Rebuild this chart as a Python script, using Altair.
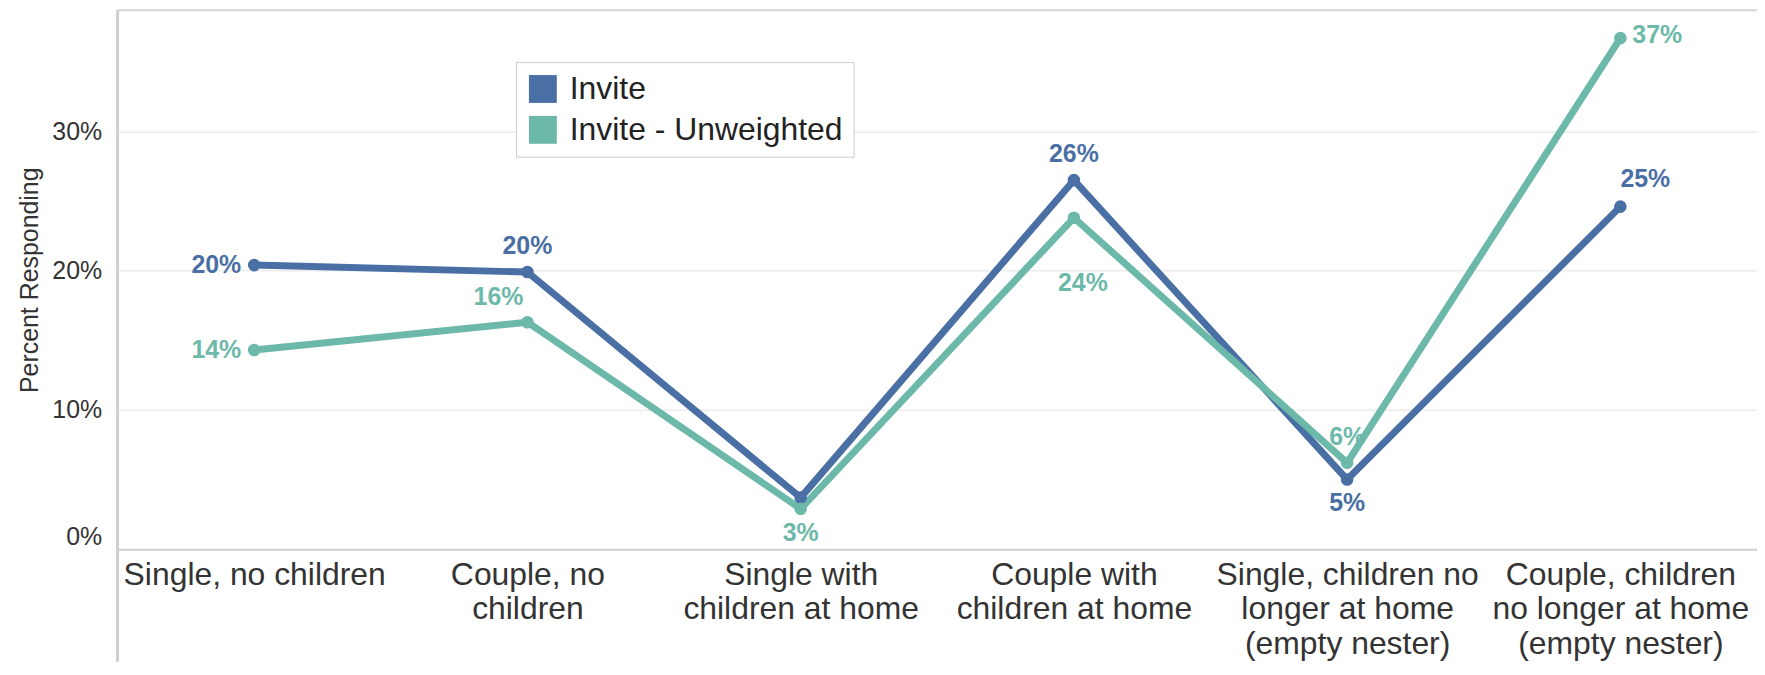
import altair as alt
import pandas as pd

# ---- data ----
categories = [
    "Single, no children",
    "Couple, no|children",
    "Single with|children at home",
    "Couple with|children at home",
    "Single, children no|longer at home|(empty nester)",
    "Couple, children|no longer at home|(empty nester)",
]
series_names = ["Invite", "Invite - Unweighted"]
invite = [20.4, 19.9, 3.7, 26.5, 5.0, 24.6]
invite_unweighted = [14.3, 16.3, 2.9, 23.8, 6.2, 36.7]
y_ticks = [0, 10, 20, 30]

# label placement for each point (layout only)
invite_place = ["left", "above", "none", "above", "below", "above_right"]
unweighted_place = ["left", "above_left", "below", "below_far", "above", "right"]

colors = ["#4a6fa5", "#6cb8a9"]
FONT = "Liberation Sans"

rows = []
for name, vals, places in [
    (series_names[0], invite, invite_place),
    (series_names[1], invite_unweighted, unweighted_place),
]:
    for cat, v, p in zip(categories, vals, places):
        rows.append({"category": cat, "series": name, "value": v,
                     "label": f"{round(v)}%", "place": p})
df = pd.DataFrame(rows)

W, H = 1646, 541
PAD = {"left": 110, "top": 1, "right": 0, "bottom": 113}

color_scale = alt.Scale(domain=series_names, range=colors)

x_enc = alt.X(
    "category:N", sort=categories,
    scale=alt.Scale(type="point", padding=0.5),
    axis=alt.Axis(
        title=None, labelExpr="split(datum.label, '|')", labelAngle=0,
        labelFontSize=32, labelLineHeight=35, labelPadding=10, labelLimit=500,
        labelColor="#333333", labelFont=FONT, ticks=False, grid=False,
        domainColor="#cfcfcf", domainWidth=2, labelBaseline="top",
    ),
)
y_enc = alt.Y(
    "value:Q",
    scale=alt.Scale(domain=[0, 38.7], nice=False, zero=True),
    axis=alt.Axis(
        values=y_ticks, labelExpr="datum.value + '%'", title="Percent Responding",
        grid=True, gridColor="#ececec", gridWidth=1.5, domain=False, ticks=False,
        labelFontSize=25, labelPadding=16, labelFlush=True, labelColor="#333333",
        labelFont=FONT, titleFont=FONT, titleFontSize=25, titleFontWeight="normal",
        titleColor="#333333", titlePadding=9,
    ),
)

base = alt.Chart(df)

frame_src = alt.Chart(pd.DataFrame({"k": [0]}))
top_rule = frame_src.mark_rule(color="#d6d6d6", strokeWidth=2).encode(
    x=alt.value(0), x2=alt.value(W), y=alt.value(0)
)
left_rule = frame_src.mark_rule(color="#cfcfcf", strokeWidth=3).encode(
    x=alt.value(0), y=alt.value(0), y2=alt.value(H + PAD["bottom"])
)

placements = {
    "left": dict(align="right", baseline="middle", dx=-13, dy=0),
    "right": dict(align="left", baseline="middle", dx=12, dy=-3),
    "above": dict(align="center", baseline="alphabetic", dx=0, dy=-18),
    "above_left": dict(align="right", baseline="alphabetic", dx=-4, dy=-17),
    "above_right": dict(align="left", baseline="alphabetic", dx=0, dy=-20),
    "below": dict(align="center", baseline="alphabetic", dx=0, dy=32),
    "below_far": dict(align="center", baseline="alphabetic", dx=9, dy=74),
}

line_layers = []
text_layers = []
for name, col in zip(series_names, colors):
    sub = base.transform_filter(alt.datum.series == name)
    line_layers.append(
        sub.mark_line(strokeWidth=7, strokeCap="round", strokeJoin="round", color=col)
        .encode(x=x_enc, y=y_enc)
    )
    for pname, kw in placements.items():
        text_layers.append(
            sub.transform_filter(alt.datum.place == pname)
            .mark_text(fontSize=25, fontWeight="bold", font=FONT, color=col, **kw)
            .encode(x=x_enc, y=y_enc, text="label:N")
        )

points = base.mark_circle(size=160, opacity=1).encode(
    x=x_enc, y=y_enc,
    color=alt.Color(
        "series:N", scale=color_scale,
        legend=alt.Legend(
            title=None, orient="none", legendX=400, legendY=52,
            symbolType="square", symbolSize=784, symbolStrokeWidth=0,
            symbolOpacity=1,
            labelFontSize=32, labelFont=FONT, labelColor="#222222",
            labelOffset=11, rowPadding=9, padding=11,
            fillColor="white", strokeColor="#cccccc", labelLimit=600,
        ),
    ),
)

chart = (
    alt.layer(top_rule, left_rule, *line_layers, points, *text_layers)
    .properties(width=W, height=H, padding=PAD, autosize="none", background="white")
    .configure_view(stroke=None)
)

chart.save("out.html", embed_options={"renderer": "svg", "actions": False})
